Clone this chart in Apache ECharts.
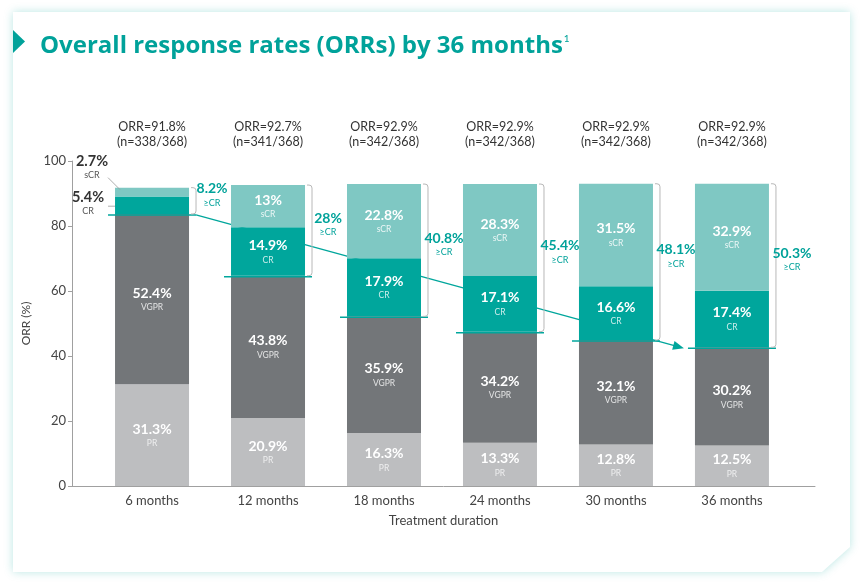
<!DOCTYPE html>
<html><head><meta charset="utf-8">
<script src="https://cdn.jsdelivr.net/npm/echarts@6/dist/echarts.min.js"></script>
<style>html,body{margin:0;padding:0;background:#fff}#c{width:863px;height:585px}</style>
</head><body><div id="c"></div>
<script>
// ---- data ----
const categories = ['6 months','12 months','18 months','24 months','30 months','36 months'];
const prValues   = [31.3, 20.9, 16.3, 13.3, 12.8, 12.5];
const vgprValues = [52.4, 43.8, 35.9, 34.2, 32.1, 30.2];
const crValues   = [5.4, 14.9, 17.9, 17.1, 16.6, 17.4];
const scrValues  = [2.7, 13, 22.8, 28.3, 31.5, 32.9];
const geCrValues = [8.2, 28, 40.8, 45.4, 48.1, 50.3];
const orrValues  = [91.8, 92.7, 92.9, 92.9, 92.9, 92.9];
const respondersN = [338, 341, 342, 342, 342, 342];
const totalN = 368;
const yTickValues = [0, 20, 40, 60, 80, 100];

// ---- style ----
const FONT = 'Lato, "Noto Sans", sans-serif';
const TITLE_FONT = '"Open Sans", Lato, sans-serif';
const TEAL = '#00A29A';
const C_PR = '#BDBEC0', C_VGPR = '#737679', C_CR = '#00A69C', C_SCR = '#7FC8C3';

const chart = echarts.init(document.getElementById('c'), null, {renderer: 'canvas'});

const baseIdx = categories.map((c, i) => i);
const baseVals = baseIdx.map(i => +(prValues[i] + vgprValues[i]).toFixed(1));
const topVals = baseIdx.map(i => +(prValues[i] + vgprValues[i] + crValues[i] + scrValues[i]).toFixed(1));

function barSeries(name, values, color, smallColor, showFn) {
  return {
    type: 'bar', name, stack: 'orr', barWidth: 74, z: 2,
    encode: {x: 1, y: 0},
    itemStyle: {color},
    label: {
      show: true, position: 'inside',
      formatter: p => `{v|${values[p.dataIndex]}%}\n{c|${name}}`,
      rich: {
        v: {fontFamily: FONT, fontSize: 14, fontWeight: 'bold', color: '#fff', lineHeight: 17},
        c: {fontFamily: FONT, fontSize: 8.5, color: smallColor, lineHeight: 12}
      }
    },
    data: values.map((v, i) => ({value: [v, i], label: {show: showFn ? showFn(i) : true}}))
  };
}

const option = {
  animation: false,
  textStyle: {fontFamily: FONT},
  title: {
    left: 35, top: 29,
    text: '{t|Overall response rates (ORRs) by 36 months}{s|1}',
    textStyle: {rich: {
      t: {fontFamily: TITLE_FONT, fontSize: 24, fontWeight: 'bold', color: TEAL},
      s: {fontFamily: FONT, fontSize: 10, fontWeight: 'normal', color: TEAL, verticalAlign: 'top', padding: [0, 0, 0, 1]}
    }}
  },
  graphic: [
    {type: 'polygon', z: -100, silent: true,
     shape: {points: [[13,12],[850,12],[850,547],[822,572],[13,572]]},
     style: {fill: '#fff', shadowBlur: 10, shadowColor: 'rgba(0,165,155,0.28)'}},
    {type: 'polygon', z: -90, silent: true,
     shape: {points: [[13,30],[25,41.5],[13,53]]}, style: {fill: TEAL}}
  ],
  grid: {left: 72, right: 48, top: 161, bottom: 99},
  xAxis: [{
    type: 'value', min: -0.69, max: 5.716, position: 'bottom',
    axisLine: {show: true, onZero: false, lineStyle: {color: '#a0a0a0', width: 1}},
    axisTick: {show: false}, splitLine: {show: false},
    axisLabel: {customValues: baseIdx, formatter: v => categories[Math.round(v)] || '',
      color: '#444', fontSize: 13, margin: 8, fontFamily: FONT},
    name: 'Treatment duration', nameLocation: 'middle', nameGap: 28,
    nameTextStyle: {color: '#444', fontSize: 13, fontFamily: FONT}
  }, {
    type: 'value', min: -0.69, max: 5.716, position: 'top',
    axisLine: {show: false, onZero: false}, axisTick: {show: false}, splitLine: {show: false},
    axisLabel: {customValues: baseIdx,
      formatter: v => { const i = Math.round(v); return `ORR=${orrValues[i]}%\n(n=${respondersN[i]}/${totalN})`; },
      color: '#333', fontSize: 12.5, lineHeight: 15, margin: 12, fontFamily: FONT}
  }],
  yAxis: {
    type: 'value', min: 0, max: 100, interval: 20,
    axisLine: {show: true, onZero: false, lineStyle: {color: '#a0a0a0'}},
    axisTick: {show: true, length: 4, lineStyle: {color: '#a0a0a0'}},
    splitLine: {show: false},
    axisLabel: {color: '#444', fontSize: 13, margin: 6, fontFamily: FONT},
    name: 'ORR (%)', nameLocation: 'middle', nameGap: 35,
    nameTextStyle: {color: '#444', fontSize: 12, fontFamily: FONT}
  },
  series: [
    // trend arrow (behind bars)
    {
      type: 'custom', z: 1, silent: true,
      data: [[0, baseVals[0], categories.length - 1, baseVals[categories.length - 1]]],
      renderItem: function (params, api) {
        const p0 = api.coord([api.value(0), api.value(1)]);
        const p1 = api.coord([api.value(2), api.value(3)]);
        const S = [p0[0] + 44, p0[1] + 1], E = [p1[0] - 48, p1[1] + 1];
        const dx = E[0] - S[0], dy = E[1] - S[1], L = Math.hypot(dx, dy);
        const ux = dx / L, uy = dy / L, nx = -uy, ny = ux;
        const bx = E[0] - ux * 11, by = E[1] - uy * 11;
        return {type: 'group', children: [
          {type: 'line', shape: {x1: S[0], y1: S[1], x2: bx + ux * 2, y2: by + uy * 2},
           style: {stroke: C_CR, lineWidth: 1.3}},
          {type: 'polygon', shape: {points: [E, [bx + nx * 4.5, by + ny * 4.5], [bx - nx * 4.5, by - ny * 4.5]]},
           style: {fill: C_CR}}
        ]};
      }
    },
    barSeries('PR', prValues, C_PR, 'rgba(255,255,255,0.75)'),
    barSeries('VGPR', vgprValues, C_VGPR, 'rgba(255,255,255,0.8)'),
    barSeries('CR', crValues, C_CR, 'rgba(255,255,255,0.8)', i => i > 0),
    barSeries('sCR', scrValues, C_SCR, 'rgba(255,255,255,0.85)', i => i > 0),
    // brackets, baselines, >=CR labels
    {
      type: 'custom', z: 3, silent: true,
      data: baseIdx.map(i => [i, baseVals[i], topVals[i], geCrValues[i]]),
      renderItem: function (params, api) {
        const i = api.value(0);
        const pb = api.coord([i, api.value(1)]), pt = api.coord([i, api.value(2)]);
        const cx = pb[0], yb = pb[1], yt = pt[1];
        const x0 = cx + 39, x1 = cx + 44;
        const path = `M${x0} ${yt} L${x1 - 3} ${yt} Q${x1} ${yt} ${x1} ${yt + 3} L${x1} ${yb - 3} Q${x1} ${yb} ${x1 - 3} ${yb} L${x0} ${yb}`;
        return {type: 'group', children: [
          {type: 'line', shape: {x1: cx - 44, y1: yb + 1, x2: cx + 44, y2: yb + 1},
           style: {stroke: C_CR, lineWidth: 1.5}},
          {type: 'path', shape: {pathData: path}, style: {stroke: '#b8b8b8', fill: null, lineWidth: 1}},
          {type: 'text', x: cx + 60, y: (yt + yb) / 2 - 6, style: {
            text: `{v|${api.value(3)}%}\n{c|≥CR}`, align: 'center', verticalAlign: 'middle',
            rich: {
              v: {fontFamily: FONT, fontSize: 14, fontWeight: 'bold', fill: TEAL, lineHeight: 16},
              c: {fontFamily: FONT, fontSize: 9, fill: TEAL, lineHeight: 12}
            }}}
        ]};
      }
    },
    // callouts for the 6-month bar
    {
      type: 'custom', z: 3, silent: true,
      data: [[0, baseVals[0] + crValues[0] / 2, topVals[0], crValues[0], scrValues[0]]],
      renderItem: function (params, api) {
        const pc = api.coord([api.value(0), api.value(1)]);
        const ps = api.coord([api.value(0), api.value(2)]);
        const cx = pc[0];
        const rich = {
          v: {fontFamily: FONT, fontSize: 14.5, fontWeight: 'bold', fill: '#333', lineHeight: 15},
          c: {fontFamily: FONT, fontSize: 9, fill: '#555', lineHeight: 12}
        };
        return {type: 'group', children: [
          {type: 'text', x: cx - 60, y: ps[1] - 20, style: {text: `{v|${api.value(4)}%}\n{c|sCR}`, align: 'center', verticalAlign: 'middle', rich}},
          {type: 'line', shape: {x1: cx - 44, y1: ps[1] - 10, x2: cx - 32, y2: ps[1] + 2}, style: {stroke: '#999', lineWidth: 0.8}},
          {type: 'text', x: cx - 64, y: pc[1] - 2, style: {text: `{v|${api.value(3)}%}\n{c|CR}`, align: 'center', verticalAlign: 'middle', rich}},
          {type: 'line', shape: {x1: cx - 44, y1: pc[1] + 1, x2: cx - 37, y2: pc[1] + 1}, style: {stroke: '#999', lineWidth: 0.8}}
        ]};
      }
    }
  ]
};
chart.setOption(option);
</script>
</body></html>
